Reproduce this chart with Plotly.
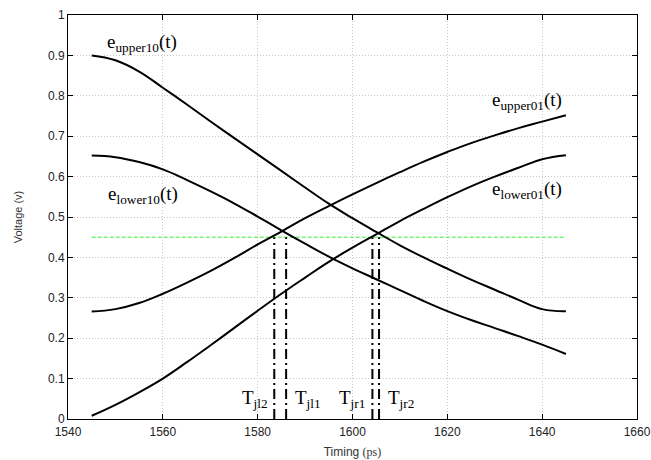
import plotly.graph_objects as go

# ---- data ----
t = [1545, 1550, 1555, 1560, 1565, 1570, 1575, 1580, 1585, 1590, 1595,
     1600, 1605, 1610, 1615, 1620, 1625, 1630, 1635, 1640, 1645]

e_upper10 = [0.900, 0.888, 0.860, 0.820, 0.779, 0.737, 0.696, 0.655, 0.614, 0.573, 0.533,
             0.497, 0.463, 0.430, 0.400, 0.372, 0.345, 0.320, 0.295, 0.272, 0.267]
e_lower10 = [0.652, 0.648, 0.636, 0.618, 0.592, 0.564, 0.534, 0.501, 0.467, 0.434, 0.402,
             0.373, 0.346, 0.319, 0.292, 0.267, 0.245, 0.225, 0.205, 0.184, 0.161]
e_upper01 = [0.266, 0.272, 0.287, 0.310, 0.337, 0.366, 0.398, 0.432, 0.464, 0.497, 0.527,
             0.556, 0.584, 0.611, 0.637, 0.661, 0.683, 0.702, 0.720, 0.736, 0.752]
e_lower01 = [0.008, 0.035, 0.066, 0.100, 0.140, 0.182, 0.225, 0.268, 0.310, 0.350, 0.389,
             0.424, 0.457, 0.490, 0.520, 0.549, 0.576, 0.600, 0.622, 0.643, 0.653]

threshold = 0.45
threshold_span = [1545, 1645]

jitter_names = ["T<sub>jl2</sub>", "T<sub>jl1</sub>", "T<sub>jr1</sub>", "T<sub>jr2</sub>"]
jitter_t = [1583.5, 1586.0, 1604.2, 1605.6]

curve_labels = ["e<sub>upper10</sub>(t)", "e<sub>lower10</sub>(t)",
                "e<sub>upper01</sub>(t)", "e<sub>lower01</sub>(t)"]

x_ticks = [1540, 1560, 1580, 1600, 1620, 1640, 1660]
y_ticks = [0, 0.1, 0.2, 0.3, 0.4, 0.5, 0.6, 0.7, 0.8, 0.9, 1]
y_ticktext = ["0", "0.1", "0.2", "0.3", "0.4", "0.5", "0.6", "0.7", "0.8", "0.9", "1"]

# ---- figure ----
fig = go.Figure()

fig.add_trace(go.Scatter(x=threshold_span, y=[threshold, threshold], mode="lines",
                         line=dict(color="#33ee33", width=1, dash="4px,2px"),
                         showlegend=False, hoverinfo="skip"))

for series in [e_upper10, e_lower10, e_upper01, e_lower01]:
    fig.add_trace(go.Scatter(x=t, y=series, mode="lines",
                             line=dict(color="black", width=2, shape="spline", smoothing=1.2),
                             showlegend=False))

for xv in jitter_t:
    fig.add_trace(go.Scatter(x=[xv, xv], y=[0, threshold], mode="lines",
                             line=dict(color="black", width=2, dash="10px,4px,2px,4px"),
                             showlegend=False, hoverinfo="skip"))

serif = "Liberation Serif, Times New Roman, serif"

# curve labels (x, y, anchor) placed in data coordinates
label_pos = [(1547.7, 0.931, "left"), (1548.1, 0.555, "left"),
             (1644.7, 0.786, "right"), (1644.7, 0.567, "right")]
for txt, (xv, yv, anc) in zip(curve_labels, label_pos):
    fig.add_annotation(x=xv, y=yv, text=txt, showarrow=False, xanchor=anc, yanchor="middle",
                       font=dict(family=serif, size=19, color="black"))

jl_pos = [(1582.6, "right"), (1587.4, "left"), (1603.0, "right"), (1607.1, "left")]
for txt, (xv, anc) in zip(jitter_names, jl_pos):
    fig.add_annotation(x=xv, y=0.05, text=txt, showarrow=False, xanchor=anc, yanchor="middle",
                       font=dict(family=serif, size=19, color="black"))

axis_common = dict(showline=True, linecolor="black", linewidth=1, mirror="allticks",
                   ticks="inside", ticklen=5, tickcolor="black", tickwidth=1,
                   showgrid=True, gridcolor="#c8c8c8", griddash="1px,2px", gridwidth=1,
                   zeroline=False, automargin=False,
                   tickfont=dict(family="Liberation Sans, Arial, sans-serif", size=12, color="#222222"))

fig.update_xaxes(range=[1540, 1660], tickvals=x_ticks,
                 title=dict(text='Timing <span style="font-family:Liberation Serif">(ps)</span>',
                            font=dict(family="Liberation Sans, Arial, sans-serif", size=12, color="#333333"),
                            standoff=9),
                 ticklabelstandoff=2,
                 **axis_common)
fig.update_yaxes(range=[0, 1], tickvals=y_ticks, ticktext=y_ticktext,
                 title=dict(text="Voltage (v)",
                            font=dict(family="Liberation Sans, Arial, sans-serif", size=11, color="#333333"),
                            standoff=23),
                 ticklabelstandoff=0,
                 **axis_common)

fig.update_layout(width=651, height=460, margin=dict(l=68, r=14, t=15, b=41),
                  plot_bgcolor="white", paper_bgcolor="white")

# remove the browser's default 8px body margin so the 651x460 figure fills the window
fig.write_html("out.html", config={"displayModeBar": False},
               post_script="document.body.style.margin='0';document.body.style.overflow='hidden';")
